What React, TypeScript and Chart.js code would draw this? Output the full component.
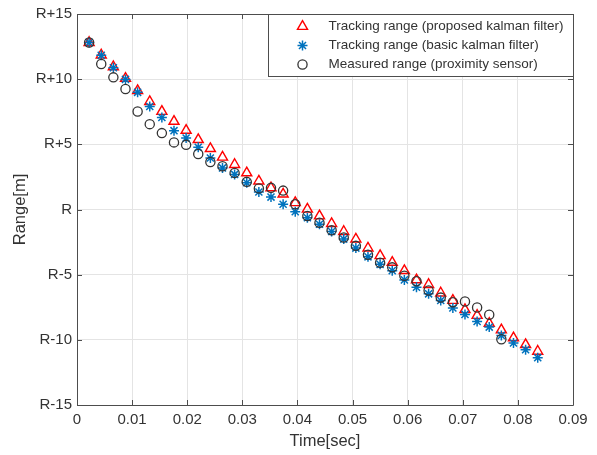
import React, { useEffect, useRef } from "react";
import { Chart, registerables } from "chart.js";
import { drawPoint } from "chart.js/helpers";

Chart.register(...registerables);

const timeSec = [
  0.0022, 0.0044, 0.0066, 0.0088, 0.011, 0.0132, 0.0154, 0.0176, 0.0198, 0.022,
  0.0242, 0.0264, 0.0286, 0.0308, 0.033, 0.0352, 0.0374, 0.0396, 0.0418, 0.044,
  0.0462, 0.0484, 0.0506, 0.0528, 0.055, 0.0572, 0.0594, 0.0616, 0.0638, 0.066,
  0.0682, 0.0704, 0.0726, 0.0748, 0.077, 0.0792, 0.0814, 0.0836,
];

const proposedKalman = [
  12.81, 11.85, 10.95, 10.06, 9.12, 8.28, 7.52, 6.76, 6.07, 5.36,
  4.67, 4.01, 3.45, 2.81, 2.18, 1.66, 1.18, 0.52, 0.02, -0.5,
  -1.08, -1.69, -2.27, -2.96, -3.55, -4.06, -4.69, -5.4, -5.76, -6.41,
  -6.98, -7.69, -8.13, -8.74, -9.24, -9.85, -10.37, -10.88,
];

const basicKalman = [
  12.81, 11.83, 10.88, 9.98, 8.99, 7.9, 7.06, 6.05, 5.48, 4.77,
  3.95, 3.19, 2.69, 2.05, 1.34, 0.95, 0.4, -0.17, -0.63, -1.13,
  -1.69, -2.27, -2.96, -3.63, -4.21, -4.69, -5.4, -5.97, -6.47, -6.98,
  -7.56, -8.05, -8.59, -9.02, -9.66, -10.24, -10.76, -11.37,
];

const measuredRange = [
  12.81, 11.16, 10.14, 9.25, 7.52, 6.55, 5.86, 5.15, 4.96, 4.26,
  3.65, 3.32, 2.81, 2.12, 1.62, 1.66, 1.45, 0.4, -0.5, -1.01,
  -1.59, -2.15, -2.79, -3.47, -4.08, -4.44, -5.08, -5.51, -6.22, -6.76,
  -7.11, -7.06, -7.52, -8.08, -9.96,
];

const seriesLabels = [
  "Tracking range (proposed kalman filter)",
  "Tracking range (basic kalman filter)",
  "Measured range (proximity sensor)",
];

const xTickValues = [0, 0.01, 0.02, 0.03, 0.04, 0.05, 0.06, 0.07, 0.08, 0.09];
const xTickLabels = ["0", "0.01", "0.02", "0.03", "0.04", "0.05", "0.06", "0.07", "0.08", "0.09"];
const yTickValues = [-15, -10, -5, 0, 5, 10, 15];
const yTickLabels = ["R-15", "R-10", "R-5", "R", "R+5", "R+10", "R+15"];

const FONT = "'Liberation Sans', Arial, Helvetica, sans-serif";
const AXIS_COLOR = "#4d4d4d";
const TEXT_COLOR = "#333333";

function pairs(values: number[]) {
  return values.map((v, i) => ({ x: timeSec[i], y: v }));
}

const boxPlugin = {
  id: "matlabBox",
  afterDatasetsDraw(chart: any) {
    const { ctx, chartArea } = chart;
    const { left, right, top, bottom } = chartArea;
    const xs = chart.scales.x;
    const ys = chart.scales.y;
    const tl = 5;
    ctx.save();
    ctx.strokeStyle = AXIS_COLOR;
    ctx.lineWidth = 1;
    ctx.beginPath();
    ctx.rect(Math.round(left) + 0.5, Math.round(top) + 0.5, Math.round(right - left), Math.round(bottom - top));
    ctx.stroke();
    ctx.beginPath();
    xTickValues.forEach((v) => {
      const px = Math.round(xs.getPixelForValue(v)) + 0.5;
      ctx.moveTo(px, bottom);
      ctx.lineTo(px, bottom - tl);
      ctx.moveTo(px, top);
      ctx.lineTo(px, top + tl);
    });
    yTickValues.forEach((v) => {
      const py = Math.round(ys.getPixelForValue(v)) + 0.5;
      ctx.moveTo(left, py);
      ctx.lineTo(left + tl, py);
      ctx.moveTo(right, py);
      ctx.lineTo(right - tl, py);
    });
    ctx.stroke();
    ctx.restore();
  },
  afterDraw(chart: any) {
    const { ctx, chartArea } = chart;
    const boxRight = Math.round(chartArea.right) + 0.5;
    const boxTop = Math.round(chartArea.top) + 0.5;
    const boxLeft = boxRight - 305;
    const boxH = 62;
    ctx.save();
    ctx.fillStyle = "#ffffff";
    ctx.fillRect(boxLeft, boxTop, boxRight - boxLeft, boxH);
    ctx.strokeStyle = AXIS_COLOR;
    ctx.lineWidth = 1;
    ctx.strokeRect(boxLeft, boxTop, boxRight - boxLeft, boxH);
    const rowY = [boxTop + 12, boxTop + 31, boxTop + 50];
    chart.data.datasets.forEach((ds: any, i: number) => {
      const mx = boxLeft + 34;
      const my = rowY[i];
      ctx.strokeStyle = ds.borderColor;
      ctx.fillStyle = "rgba(0,0,0,0)";
      ctx.lineWidth = ds.borderWidth;
      drawPoint(ctx, { pointStyle: ds.pointStyle, radius: ds.pointRadius, borderWidth: ds.borderWidth, rotation: 0 }, mx, my);
      ctx.fillStyle = TEXT_COLOR;
      ctx.font = `13.5px ${FONT}`;
      ctx.textBaseline = "middle";
      ctx.textAlign = "left";
      ctx.fillText(ds.label, boxLeft + 60, my);
    });
    ctx.restore();
  },
};

export default function App() {
  const canvasRef = useRef<HTMLCanvasElement | null>(null);

  useEffect(() => {
    const canvas = canvasRef.current;
    if (!canvas) return;
    const chart = new Chart(canvas, {
      type: "scatter",
      data: {
        datasets: [
          {
            label: seriesLabels[0],
            data: pairs(proposedKalman),
            pointStyle: "triangle",
            pointRadius: 5.8,
            borderColor: "#ff0000",
            backgroundColor: "rgba(0,0,0,0)",
            borderWidth: 1.4,
            order: 3,
          },
          {
            label: seriesLabels[1],
            data: pairs(basicKalman),
            pointStyle: "star",
            pointRadius: 5,
            borderColor: "#0072bd",
            backgroundColor: "rgba(0,0,0,0)",
            borderWidth: 1.5,
            order: 2,
          },
          {
            label: seriesLabels[2],
            data: pairs(measuredRange),
            pointStyle: "circle",
            pointRadius: 4.6,
            borderColor: "#333333",
            backgroundColor: "rgba(0,0,0,0)",
            borderWidth: 1.3,
            order: 1,
          },
        ],
      },
      options: {
        animation: false,
        responsive: false,
        devicePixelRatio: 1,
        layout: { padding: { top: 12, right: 24, left: 0, bottom: 0 } },
        plugins: {
          legend: { display: false },
          tooltip: { enabled: false },
        },
        scales: {
          x: {
            type: "linear",
            min: 0,
            max: 0.09,
            afterBuildTicks: (scale: any) => {
              scale.ticks = xTickValues.map((v) => ({ value: v }));
            },
            afterFit: (scale: any) => {
              scale.height = 50;
            },
            ticks: {
              padding: 6,
              color: TEXT_COLOR,
              font: { family: FONT, size: 15 },
              maxRotation: 0,
              callback: (value: any) => {
                const idx = xTickValues.findIndex((v) => Math.abs(v - Number(value)) < 1e-9);
                return idx >= 0 ? xTickLabels[idx] : "";
              },
            },
            grid: { color: "#e4e4e4", drawTicks: false, lineWidth: 1 },
            border: { display: false },
            title: {
              display: true,
              text: "Time[sec]",
              color: TEXT_COLOR,
              font: { family: FONT, size: 16.5 },
              padding: { top: 0, bottom: 4 },
            },
          },
          y: {
            type: "linear",
            min: -15,
            max: 15,
            afterBuildTicks: (scale: any) => {
              scale.ticks = yTickValues.map((v) => ({ value: v }));
            },
            afterFit: (scale: any) => {
              scale.width = 77;
            },
            ticks: {
              padding: 5,
              color: TEXT_COLOR,
              font: { family: FONT, size: 15 },
              callback: (value: any) => {
                const idx = yTickValues.indexOf(Number(value));
                return idx >= 0 ? yTickLabels[idx] : "";
              },
            },
            grid: { color: "#e4e4e4", drawTicks: false, lineWidth: 1 },
            border: { display: false },
            title: {
              display: true,
              text: "Range[m]",
              color: TEXT_COLOR,
              font: { family: FONT, size: 16.5 },
              padding: { top: 11, bottom: 0 },
            },
          },
        },
      },
      plugins: [boxPlugin],
    });
    return () => chart.destroy();
  }, []);

  return (
    <div style={{ position: "fixed", left: 0, top: 0, width: 597, height: 455, background: "#ffffff" }}>
      <canvas ref={canvasRef} width={597} height={455} style={{ display: "block" }} />
    </div>
  );
}
